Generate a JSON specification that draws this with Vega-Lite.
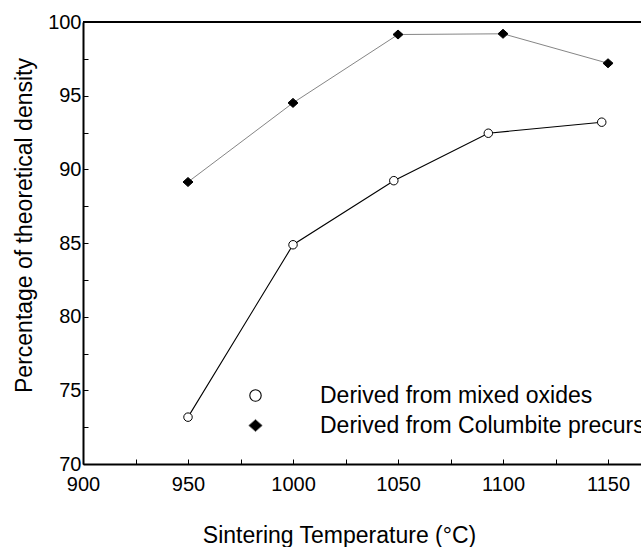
{
  "$schema": "https://vega.github.io/schema/vega-lite/v6.json",
  "autosize": "none",
  "width": 558,
  "height": 442,
  "padding": {"left": 83, "top": 22, "right": 0, "bottom": 83},
  "background": "white",
  "config": {
    "view": {"stroke": null},
    "font": "Liberation Sans",
    "axis": {
      "grid": false,
      "domainColor": "black",
      "domainWidth": 2,
      "tickColor": "black",
      "tickWidth": 1,
      "labelColor": "black",
      "labelFont": "Liberation Sans",
      "labelFontSize": 20,
      "titleFont": "Liberation Sans",
      "titleFontSize": 23,
      "titleFontWeight": "normal",
      "titleColor": "black",
      "labelOverlap": false,
      "labelFlush": false
    }
  },
  "data": {
    "values": [
      {"series": "Derived from mixed oxides", "temp": 950, "density": 73.18},
      {"series": "Derived from mixed oxides", "temp": 1000, "density": 84.88},
      {"series": "Derived from mixed oxides", "temp": 1048, "density": 89.23},
      {"series": "Derived from mixed oxides", "temp": 1093, "density": 92.45},
      {"series": "Derived from mixed oxides", "temp": 1147, "density": 93.2},
      {"series": "Derived from Columbite precursor", "temp": 950, "density": 89.14},
      {"series": "Derived from Columbite precursor", "temp": 1000, "density": 94.51},
      {"series": "Derived from Columbite precursor", "temp": 1050, "density": 99.15},
      {"series": "Derived from Columbite precursor", "temp": 1100, "density": 99.2},
      {"series": "Derived from Columbite precursor", "temp": 1150, "density": 97.2}
    ]
  },
  "encoding": {
    "x": {
      "field": "temp",
      "type": "quantitative",
      "scale": {"domain": [900, 1165.7], "nice": false, "zero": false},
      "axis": {
        "title": "Sintering Temperature (°C)",
        "values": [900, 925, 950, 975, 1000, 1025, 1050, 1075, 1100, 1125, 1150],
        "labelExpr": "datum.value % 50 == 0 ? format(datum.value, 'd') : ''",
        "tickSize": -5,
        "labelPadding": 15,
        "titleX": 256,
        "titleY": 78,
        "titleBaseline": "alphabetic",
        "titleAlign": "center"
      }
    },
    "y": {
      "field": "density",
      "type": "quantitative",
      "scale": {"domain": [70, 100], "nice": false, "zero": false},
      "axis": {
        "title": "Percentage of theoretical density",
        "values": [70, 72.5, 75, 77.5, 80, 82.5, 85, 87.5, 90, 92.5, 95, 97.5, 100],
        "labelExpr": "datum.value % 5 == 0 ? format(datum.value, 'd') : ''",
        "tickSize": -5,
        "labelPadding": 7,
        "titleX": -52,
        "titleY": 203,
        "titleAngle": -90,
        "titleBaseline": "alphabetic",
        "titleAlign": "center"
      }
    }
  },
  "layer": [
    {
      "mark": {"type": "rule", "color": "black", "strokeWidth": 2},
      "encoding": {"y": {"datum": 100}, "x": null}
    },
    {
      "mark": {"type": "line"},
      "encoding": {
        "color": {
          "field": "series",
          "type": "nominal",
          "scale": {"domain": ["Derived from mixed oxides", "Derived from Columbite precursor"], "range": ["black", "#666666"]}
        },
        "strokeWidth": {
          "field": "series",
          "type": "ordinal",
          "scale": {"domain": ["Derived from mixed oxides", "Derived from Columbite precursor"], "range": [1.1, 0.8]}
        }
      }
    },
    {
      "mark": {"type": "point", "stroke": "black", "strokeWidth": 1, "opacity": 1, "size": 72},
      "encoding": {
        "shape": {
          "field": "series",
          "type": "nominal",
          "scale": {"domain": ["Derived from mixed oxides", "Derived from Columbite precursor"], "range": ["circle", "M-1.18,0L0,-1.06L1.18,0L0,1.06Z"]},
          "legend": {
            "title": null,
            "orient": "none",
            "legendX": 137,
            "legendY": 362,
            "padding": 0,
            "symbolSize": 130,
            "symbolOffset": 24,
            "labelFont": "Liberation Sans",
            "labelFontSize": 23,
            "labelColor": "black",
            "labelOffset": 53,
            "rowPadding": 6,
            "labelLimit": 500
          }
        },
        "fill": {
          "field": "series",
          "type": "nominal",
          "scale": {"domain": ["Derived from mixed oxides", "Derived from Columbite precursor"], "range": ["white", "black"]}
        }
      }
    }
  ]
}
